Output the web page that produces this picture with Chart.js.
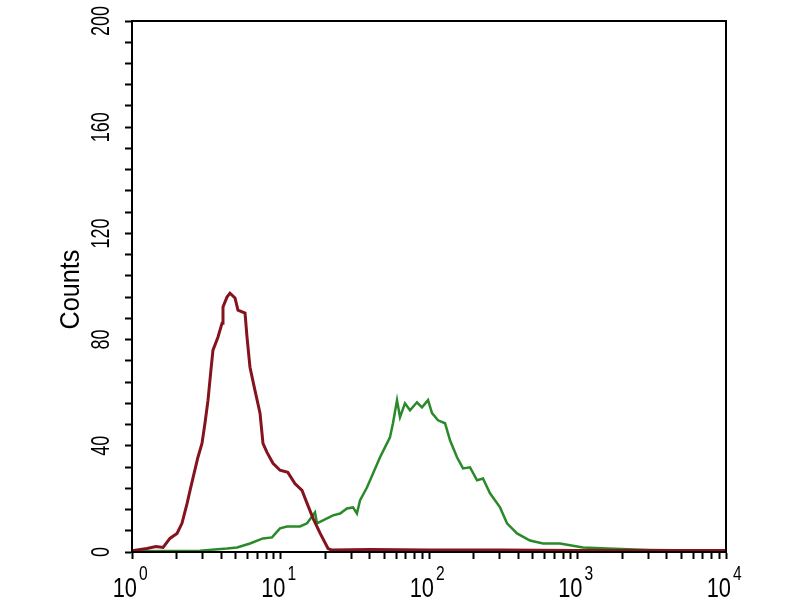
<!DOCTYPE html>
<html lang="en">
<head>
<meta charset="UTF-8">
<title>Counts histogram</title>
<script src="https://cdn.jsdelivr.net/npm/chart.js"></script>
<style>
  html, body { margin: 0; padding: 0; background: #fff; }
  #wrap { width: 800px; height: 600px; position: relative; }
</style>
</head>
<body>
<div id="wrap"><canvas id="chartCanvas"></canvas></div>
<script>
// red histogram (control)
const redX = [1.0, 1.26, 1.45, 1.62, 1.80, 2.01, 2.17, 2.35, 2.46, 2.58, 2.78, 2.96, 3.10, 3.25, 3.40, 3.51,
  3.79, 4.04, 4.10, 4.36, 4.57, 4.94, 5.17, 5.77, 5.95, 6.23, 6.73, 7.28, 7.62, 8.11, 8.90, 9.92,
  11.2, 12.5, 13.96, 15.1, 16.6, 18.5, 20.9, 22, 40, 100, 300, 1000, 3000, 10000];
const redY = [0.5, 1.3, 2.1, 1.7, 5.1, 7.0, 10.8, 18.3, 23.2, 28.1, 35.7, 40.9, 48.5, 57.2, 68.5, 76.0,
  80.9, 86.2, 92.3, 96.0, 97.5, 95.7, 91.1, 90.0, 80.9, 69.6, 60.9, 52.3, 40.9, 37.5, 33.4, 30.8,
  30.0, 25.8, 23.2, 18.3, 12.6, 7.0, 1.3, 0.8, 0.9, 0.8, 0.8, 0.6, 0.6, 0.6];

// green histogram (stained)
const greenX = [1.0, 2.87, 4.36, 5.10, 6.23, 7.62, 8.77, 9.92, 11.06, 13.53, 15.1, 17.07, 17.6, 19.33,
  22.57, 25.2, 28.0, 30.8, 32.7, 34.3, 38.2, 41.97, 46.8, 50.5, 54.6, 57.2, 60.9, 63.8, 68.9, 74.5,
  83.0, 89.7, 98.5, 104.8, 115.0, 128.2, 138.5, 154.4, 169.4, 188.9, 210.6, 231.0, 257.5, 300.8,
  335.2, 391.4, 478.7, 585.8, 762.4, 1089, 1580, 3077, 6683, 10000];
const greenY = [0.3, 0.5, 1.3, 1.7, 3.2, 5.1, 5.5, 8.9, 9.6, 9.6, 10.8, 14.9, 10.8, 11.9,
  13.8, 14.5, 16.4, 16.8, 14.5, 19.4, 24.3, 29.6, 35.7, 39.4, 43.2, 48.5, 57.2, 50.8, 56.0, 53.4,
  56.4, 54.5, 57.2, 52.3, 49.6, 48.5, 42.1, 35.7, 31.5, 31.9, 27.0, 27.7, 22.1, 16.8,
  10.8, 7.0, 4.3, 3.2, 3.2, 1.7, 1.3, 0.8, 0.6, 0.5];

// axis labels
const yLabels = [0, 40, 80, 120, 160, 200];
const xDecades = [1, 10, 100, 1000, 10000];
const xExponents = ['0', '1', '2', '3', '4'];
const yTitle = 'Counts';

// tick marks: every 8 counts on y, 1..9 per decade on x
const yTickValues = [];
for (let v = 0; v <= 200; v += 8) yTickValues.push(v);
const xTickValues = [];
for (let d = 1; d < 10000; d *= 10) {
    for (let k = 1; k < 10; k++) xTickValues.push(k * d);
}
xTickValues.push(10000);

function toPoints(xs, ys) {
    return xs.map((x, i) => ({ x: x, y: ys[i] }));
}

function drawText(ctx, txt, x, y, size, squeeze, align, baseline, rot) {
    ctx.save();
    ctx.translate(x, y);
    if (rot) ctx.rotate(rot);
    ctx.scale(squeeze, 1);
    ctx.font = size + 'px "Liberation Sans", Arial, sans-serif';
    ctx.textAlign = align;
    ctx.textBaseline = baseline;
    ctx.fillStyle = '#000';
    ctx.fillText(txt, 0, 0);
    ctx.restore();
}

// frame + labels drawn by hand (rotated y labels, superscript exponents)
const framePlugin = {
    id: 'frame',
    afterDraw(chart) {
        const ctx = chart.ctx;
        const a = chart.chartArea;
        const xs = chart.scales.x, ys = chart.scales.y;
        ctx.save();
        ctx.strokeStyle = '#000';
        ctx.lineWidth = 2;
        ctx.strokeRect(a.left, a.top, a.right - a.left, a.bottom - a.top);
        ctx.restore();

        yLabels.forEach(v => {
            drawText(ctx, String(v), 102, ys.getPixelForValue(v), 25, 0.72, 'center', 'middle', -Math.PI / 2);
        });
        xDecades.forEach((v, i) => {
            const px = xs.getPixelForValue(v);
            drawText(ctx, '10', px + 5, 597, 28, 0.78, 'right', 'alphabetic', 0);
            drawText(ctx, xExponents[i], px + 7, 580, 20, 0.78, 'left', 'alphabetic', 0);
        });
        drawText(ctx, yTitle, 71, (a.top + a.bottom) / 2 + 3, 28, 0.9, 'center', 'middle', -Math.PI / 2);
    }
};

const ctx = document.getElementById('chartCanvas').getContext('2d');
new Chart(ctx, {
    type: 'line',
    data: {
        datasets: [
            {
                label: 'control',
                data: toPoints(redX, redY),
                borderColor: '#85131f',
                borderWidth: 3,
                pointRadius: 0,
                tension: 0,
                fill: false
            },
            {
                label: 'stained',
                data: toPoints(greenX, greenY),
                borderColor: '#2a8a2a',
                borderWidth: 2.5,
                pointRadius: 0,
                tension: 0,
                fill: false
            }
        ]
    },
    options: {
        responsive: true,
        maintainAspectRatio: false,
        animation: false,
        layout: { padding: { left: 92, top: 21, right: 74, bottom: 8 } },
        plugins: {
            legend: { display: false },
            tooltip: { enabled: false }
        },
        scales: {
            x: {
                type: 'logarithmic',
                min: 1,
                max: 10000,
                afterBuildTicks: s => { s.ticks = xTickValues.map(v => ({ value: v })); },
                afterFit: s => { s.height = 40; },
                ticks: { display: false },
                grid: { drawOnChartArea: false, drawTicks: true, tickLength: 7, tickColor: '#000', tickWidth: 2 },
                border: { display: true, color: '#000', width: 2 }
            },
            y: {
                type: 'linear',
                min: 0,
                max: 200,
                afterBuildTicks: s => { s.ticks = yTickValues.map(v => ({ value: v })); },
                afterFit: s => { s.width = 40; },
                ticks: { display: false },
                grid: { drawOnChartArea: false, drawTicks: true, tickLength: 7, tickColor: '#000', tickWidth: 2 },
                border: { display: true, color: '#000', width: 2 }
            }
        }
    },
    plugins: [framePlugin]
});
</script>
</body>
</html>
